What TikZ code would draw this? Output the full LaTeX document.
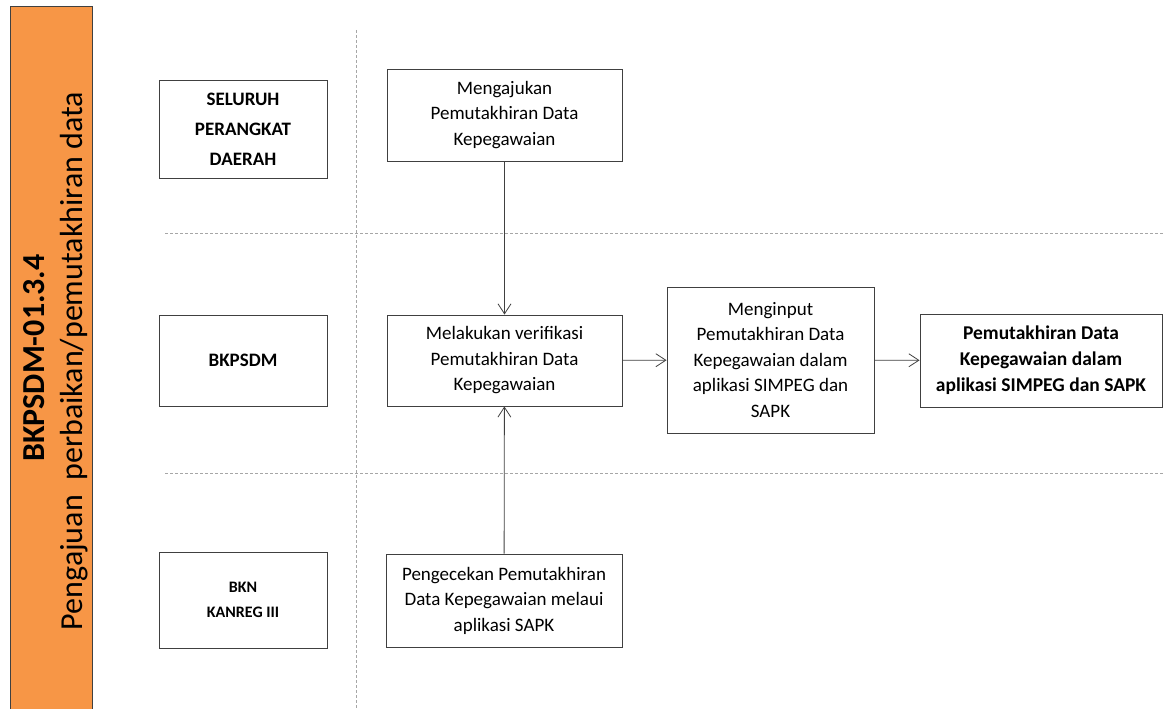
\documentclass[tikz,border=0pt]{standalone}
\usepackage{fontspec}
\setmainfont{Carlito}
\usepackage{tikz}
\usetikzlibrary{arrows.meta}
\definecolor{sopbar}{HTML}{F79646}
\definecolor{sopline}{HTML}{404040}
\tikzset{
	lanebox/.style={draw=sopline, line width=0.9pt, align=center, inner sep=0pt, font=\fontsize{19}{30}\selectfont\bfseries},
	stepbox/.style={draw=sopline, line width=0.9pt, align=center, inner sep=0pt, font=\fontsize{19}{25.5}\selectfont},
	flow/.style={draw=sopline, line width=0.8pt, -{Straight Barb[length=10pt,width=13pt]}},
	lanesep/.style={draw=black!35, line width=0.6pt, dash pattern=on 3pt off 2pt}
}

\begin{document}
\begin{tikzpicture}[x=1pt, y=-1pt]
		%%%%% START %%%%%
		\useasboundingbox (0, 0) rectangle (1165, 709);
		
		\fill[sopbar] (10, 7) rectangle (92, 709);
		\draw[line width=1pt, color=sopline] (10, 709) -- (10, 7) -- (92, 7) -- (92, 709);
		\node[rotate=90, anchor=base, font=\fontsize{32}{38}\selectfont\bfseries] (kode) at (44, 358) {BKPSDM-01.3.4};
		\node[rotate=90, anchor=base, font=\fontsize{32}{38}\selectfont] (judul) at (82, 361) {Pengajuan~ perbaikan/pemutakhiran data};
		
		\draw[lanesep] (356, 30) -- (356, 709);
		\draw[lanesep] (165, 233) -- (1165, 233);
		\draw[lanesep] (165, 473) -- (1165, 473);
		
		\node[lanebox, minimum width=168, minimum height=98] (opd) at (243, 129) {SELURUH\\PERANGKAT\\DAERAH};
		\node[lanebox, minimum width=168, minimum height=91] (bkpsdm) at (243, 360.5) {BKPSDM};
		\node[lanebox, minimum width=168, minimum height=96, font=\fontsize{16}{25}\selectfont\bfseries] (bkn) at (243, 600) {BKN\\KANREG III};
		
		\node[stepbox, minimum width=235, minimum height=92] (ajukan) at (504.5, 115) {Mengajukan\\Pemutakhiran Data\\Kepegawaian};
		\node[stepbox, minimum width=235, minimum height=91] (verif) at (504.5, 360.5) {Melakukan verifikasi\\Pemutakhiran Data\\Kepegawaian};
		\node[stepbox, minimum width=236, minimum height=93] (cek) at (504, 600.5) {Pengecekan Pemutakhiran\\Data Kepegawaian melaui\\aplikasi SAPK};
		\node[stepbox, minimum width=207, minimum height=146] (input) at (770.5, 360) {Menginput\\Pemutakhiran Data\\Kepegawaian dalam\\aplikasi SIMPEG dan\\SAPK};
		\node[stepbox, minimum width=242, minimum height=93, font=\fontsize{19.5}{26}\selectfont\bfseries] (hasil) at (1041, 360.5) {Pemutakhiran Data\\Kepegawaian dalam\\aplikasi SIMPEG dan SAPK};
		
		\draw[flow] (ajukan) -- (verif);
		\draw[flow] (cek) -- (verif);
		\draw[flow] (verif) -- (input);
		\draw[flow] (input) -- (hasil);
		%%%%% END %%%%%
\end{tikzpicture}
\end{document}
